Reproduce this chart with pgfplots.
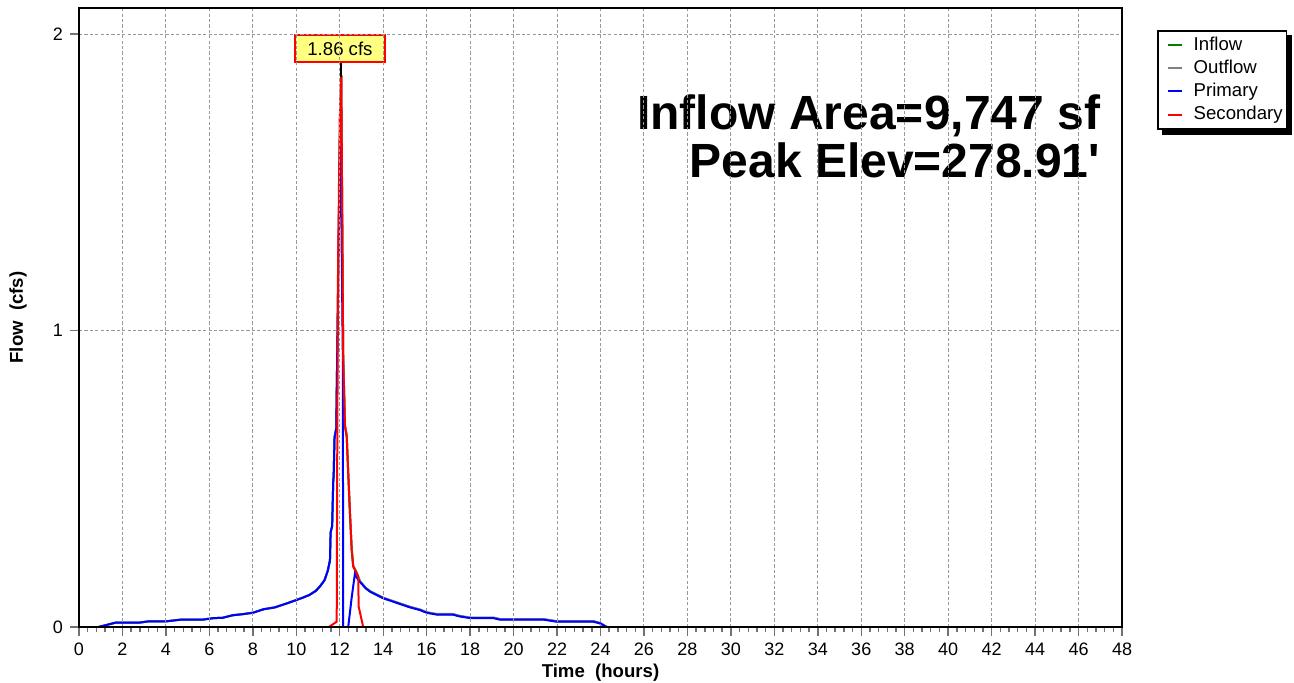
\documentclass[border=0pt]{standalone}
\usepackage{fontspec}
\setmainfont{Liberation Sans}
\usepackage{pgfplots}
\pgfplotsset{compat=1.18}
\usetikzlibrary{backgrounds}
\definecolor{inflowc}{RGB}{0,128,0}
\definecolor{outflowc}{RGB}{128,128,128}
\definecolor{primc}{RGB}{0,0,255}
\definecolor{secc}{RGB}{255,0,0}
\definecolor{labfill}{RGB}{255,255,128}
\begin{document}
\begin{tikzpicture}
\begin{axis}[name=ax, scale only axis, width=521.5pt, height=309.5pt,
  xmin=0, xmax=48, ymin=0, ymax=2.088,
  xtick={0,2,...,48}, ytick={0,1,2}, minor x tick num=4,
  tick align=outside, tick pos=left,
  major tick length=4.5pt, minor tick length=2.5pt,
  tick style={black!55, line width=0.7pt},
  xmajorgrids, ymajorgrids,
  major grid style={black!40, line width=0.5pt, dash pattern=on 1.6pt off 1.1pt},
  axis line style={black, line width=1pt},
  axis on top,
  /pgf/number format/assume math mode=true,
  ticklabel style={font=\fontsize{9}{10}\selectfont},
  xlabel={\bfseries Time\ \ (hours)}, ylabel={\bfseries Flow\ \ (cfs)},
  label style={font=\fontsize{9.3}{10}\selectfont},
  xlabel style={at={(axis description cs:0.5,-0.0743)}, anchor=center},
  ylabel style={at={(axis description cs:-0.0585,0.5)}, anchor=center},
  legend style={name=leg, at={(1.0335,0.9645)}, anchor=north west, draw=black, line width=0.8pt,
    fill=white, font=\fontsize{9.3}{10}\selectfont,
    inner xsep=0pt, inner ysep=1pt, row sep=-0.65pt, column sep=3.5pt, cells={anchor=west}},
  legend image code/.code={\path (0pt,0pt); \draw[#1, line width=1pt] (4.5pt,0pt) -- (11.5pt,0pt);},
]
% Inflow
\addplot[inflowc, line width=1pt] coordinates {
(0,0) (0.9,0) (1.7,0.015) (2.8,0.015) (3.2,0.019) (4.0,0.019) (4.7,0.025) (5.7,0.025)
(6.2,0.03) (6.6,0.031) (7.1,0.04) (7.5,0.043) (8.0,0.048) (8.5,0.06) (9.0,0.066) (9.5,0.078)
(10.0,0.091) (10.3,0.099) (10.6,0.108) (10.9,0.122) (11.1,0.138) (11.3,0.158) (11.45,0.19)
(11.55,0.225) (11.58,0.32) (11.65,0.34) (11.67,0.40) (11.7,0.49) (11.72,0.51) (11.76,0.64)
(11.84,0.67) (11.88,0.9) (11.95,1.3) (12.02,1.72) (12.07,1.86) (12.12,1.3) (12.16,0.92)
(12.24,0.68) (12.32,0.645) (12.39,0.52) (12.47,0.385) (12.55,0.262) (12.62,0.206) (12.78,0.183)
(12.93,0.154) (13.2,0.131) (13.4,0.12) (13.7,0.109) (14.0,0.098) (14.4,0.088) (14.8,0.078)
(15.2,0.068) (15.7,0.058) (16.0,0.049) (16.46,0.043) (17.2,0.043) (17.5,0.037) (18.0,0.031)
(19.07,0.031) (19.37,0.026) (21.37,0.026) (21.98,0.019) (23.67,0.019) (23.98,0.013) (24.28,0) (48,0)};
\addlegendentry{Inflow}
% Outflow
\addplot[outflowc, line width=1pt] coordinates {
(0,0) (0.9,0) (1.7,0.015) (2.8,0.015) (3.2,0.019) (4.0,0.019) (4.7,0.025) (5.7,0.025)
(6.2,0.03) (6.6,0.031) (7.1,0.04) (7.5,0.043) (8.0,0.048) (8.5,0.06) (9.0,0.066) (9.5,0.078)
(10.0,0.091) (10.3,0.099) (10.6,0.108) (10.9,0.122) (11.1,0.138) (11.3,0.158) (11.45,0.19)
(11.55,0.225) (11.58,0.32) (11.65,0.34) (11.67,0.40) (11.7,0.49) (11.72,0.51) (11.76,0.64)
(11.84,0.67) (11.88,0.9) (11.95,1.3) (12.02,1.72) (12.07,1.86) (12.12,1.3) (12.16,0.92)
(12.24,0.68) (12.32,0.645) (12.39,0.52) (12.47,0.385) (12.55,0.262) (12.62,0.206) (12.78,0.183)
(12.93,0.155) (13.2,0.132) (13.4,0.121) (13.7,0.11) (14.0,0.099) (14.4,0.089) (14.8,0.079)
(15.2,0.069) (15.7,0.059) (16.0,0.05) (16.46,0.044) (17.2,0.044) (17.5,0.038) (18.0,0.032)
(19.07,0.032) (19.37,0.027) (21.37,0.027) (21.98,0.02) (23.67,0.02) (23.98,0.014) (24.3,0) (48,0)};
\addlegendentry{Outflow}
% Primary
\addplot[primc, line width=1pt] coordinates {
(0,0) (0.9,0) (1.7,0.015) (2.8,0.015) (3.2,0.019) (4.0,0.019) (4.7,0.025) (5.7,0.025)
(6.2,0.03) (6.6,0.031) (7.1,0.04) (7.5,0.043) (8.0,0.048) (8.5,0.06) (9.0,0.066) (9.5,0.078)
(10.0,0.091) (10.3,0.099) (10.6,0.108) (10.9,0.122) (11.1,0.138) (11.3,0.158) (11.45,0.19)
(11.55,0.225) (11.58,0.32) (11.65,0.34) (11.67,0.40) (11.7,0.49) (11.72,0.51) (11.76,0.64)
(11.84,0.67) (11.86,0.80) (11.9,1.0) (11.95,1.3) (12.01,1.62) (12.06,1.5) (12.1,1.2) (12.14,0.92)
(12.16,0) (12.39,0) (12.55,0.1) (12.7,0.181) (12.8,0.165) (12.93,0.152) (13.2,0.13) (13.4,0.119)
(13.7,0.108) (14.0,0.097) (14.4,0.087) (14.8,0.077) (15.2,0.067) (15.7,0.057) (16.0,0.048)
(16.46,0.042) (17.2,0.042) (17.5,0.036) (18.0,0.030) (19.07,0.030) (19.37,0.025) (21.37,0.025)
(21.98,0.018) (23.67,0.018) (23.98,0.012) (24.28,0) (48,0)};
\addlegendentry{Primary}
% Secondary
\addplot[secc, line width=1pt] coordinates {
(0,0) (11.5,0) (11.86,0.018) (11.88,0.5) (11.92,1.2) (12.0,1.72) (12.07,1.86) (12.11,1.45)
(12.14,1.1) (12.16,0.90) (12.24,0.677) (12.32,0.643) (12.39,0.519) (12.47,0.384) (12.55,0.26)
(12.62,0.204) (12.78,0.181) (12.85,0.17) (12.87,0.069) (13.08,0) (48,0)};
\addlegendentry{Secondary}
% peak marker
\addplot[black, line width=1.2pt, forget plot] coordinates {(12.07,1.855) (12.07,1.905)};
\node[draw=secc, line width=1pt, fill=labfill, font=\fontsize{9.3}{10}\selectfont,
  minimum width=45pt, minimum height=13.3pt, inner sep=1pt] at (axis cs:12.01,1.951) {1.86 cfs};
\node[anchor=base east, font=\fontsize{24}{28}\selectfont\bfseries] at (axis cs:47.32,1.679) {Inflow Area=9,747 sf};
\node[anchor=base east, font=\fontsize{24}{28}\selectfont\bfseries] at (axis cs:47.32,1.517) {Peak Elev=278.91\textquotesingle};
\end{axis}
\begin{pgfonlayer}{background}
\fill[black] ([xshift=2.5pt,yshift=-2.5pt]leg.south west) rectangle ([xshift=2.5pt,yshift=-2.5pt]leg.north east);
\end{pgfonlayer}
\pgfresetboundingbox
\path[use as bounding box] ([xshift=-39.5pt,yshift=-27.5pt]ax.south west) rectangle ++(647pt,341pt);
\end{tikzpicture}
\end{document}
